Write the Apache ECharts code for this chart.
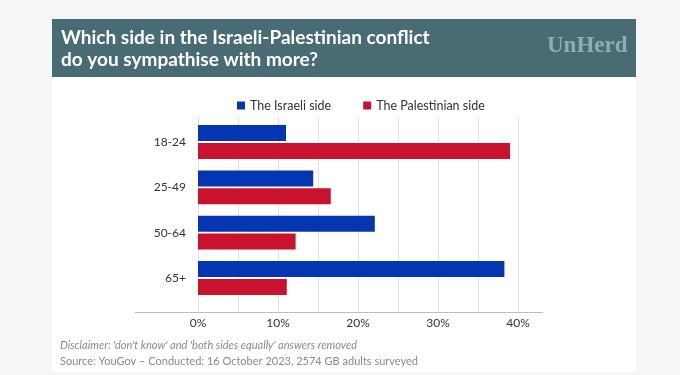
<!DOCTYPE html>
<html>
<head>
<meta charset="utf-8">
<script src="https://cdn.jsdelivr.net/npm/echarts@6/dist/echarts.min.js"></script>
<style>
  html, body { margin: 0; padding: 0; background: #f6f6f6; }
  #main { width: 680px; height: 375px; }
</style>
</head>
<body>
<div id="main"></div>
<script>
// age groups, top to bottom
var ageGroups = ['18-24', '25-49', '50-64', '65+'];
// % sympathising with each side
var israeliSide = [11, 14.4, 22.1, 38.3];
var palestinianSide = [39, 16.6, 12.2, 11.1];
var seriesNames = ['The Israeli side', 'The Palestinian side'];
var xTicks = [0, 10, 20, 30, 40];

var FONT = 'Lato, "Open Sans", sans-serif';

var myChart = echarts.init(document.getElementById('main'));

var option = {
	backgroundColor: '#f6f6f6',
	animation: false,
	graphic: [{
		type: 'rect',
		shape: { x: 52, y: 19, width: 584, height: 353 },
		style: { fill: '#ffffff' },
		z: -10
	}, {
		type: 'rect',
		shape: { x: 52, y: 19, width: 584, height: 58 },
		style: { fill: '#486b74' },
		z: -9
	}, {
		// long baseline under the plot
		type: 'line',
		shape: { x1: 135, y1: 312.5, x2: 543, y2: 312.5 },
		style: { stroke: '#bdbdbd', lineWidth: 1 },
		z: 5
	}, {
		type: 'text',
		left: 547,
		top: 35,
		style: {
			text: 'UnHerd',
			fill: '#8eacb1',
			font: 'bold 23px "Liberation Serif", "DejaVu Serif", serif'
		}
	}, {
		type: 'text',
		left: 60,
		top: 340,
		style: {
			text: "Disclaimer: 'don't know' and 'both sides equally' answers removed",
			fill: '#8a8a8a',
			font: 'italic 11px ' + FONT
		}
	}, {
		type: 'text',
		left: 60,
		top: 356,
		style: {
			text: 'Source: YouGov \u2013 Conducted: 16 October 2023, 2574 GB adults surveyed',
			fill: '#8a8a8a',
			font: '11px ' + FONT
		}
	}],
	title: {
		text: 'Which side in the Israeli-Palestinian conflict\ndo you sympathise with more?',
		left: 56,
		top: 22,
		textStyle: {
			color: '#ffffff',
			fontFamily: FONT,
			fontWeight: 'bold',
			fontSize: 19,
			lineHeight: 22
		}
	},
	legend: {
		data: seriesNames,
		left: 232,
		top: 94,
		icon: 'rect',
		itemWidth: 8,
		itemHeight: 8,
		itemGap: 32,
		textStyle: { color: '#333', fontSize: 12.5, fontFamily: FONT }
	},
	grid: [
		// bars
		{ left: 198, width: 320, top: 119.4, height: 181.2 },
		// gridlines and tick labels
		{ left: 198, width: 320, top: 116, height: 196 }
	],
	xAxis: [{
		gridIndex: 0,
		type: 'value',
		min: 0,
		max: 40,
		show: false
	}, {
		gridIndex: 1,
		type: 'value',
		min: 0,
		max: 40,
		interval: 5,
		axisLine: { show: false },
		axisTick: { show: false },
		splitLine: { show: true, lineStyle: { color: '#e2e2e2', width: 1 } },
		axisLabel: {
			color: '#333',
			fontSize: 12,
			fontFamily: FONT,
			margin: 5,
			formatter: function(v) {
				return xTicks.indexOf(v) >= 0 ? v + '%' : '';
			}
		}
	}],
	yAxis: [{
		gridIndex: 0,
		type: 'category',
		data: ageGroups,
		inverse: true,
		axisLine: { show: false },
		axisTick: { show: false },
		axisLabel: { color: '#333', fontSize: 12, fontFamily: FONT, margin: 12 }
	}, {
		gridIndex: 1,
		type: 'value',
		show: false
	}],
	series: [{
		name: seriesNames[0],
		type: 'bar',
		xAxisIndex: 0,
		yAxisIndex: 0,
		barWidth: 16,
		barGap: '12%',
		itemStyle: { color: '#0436b2' },
		data: israeliSide
	}, {
		name: seriesNames[1],
		type: 'bar',
		xAxisIndex: 0,
		yAxisIndex: 0,
		barWidth: 16,
		barGap: '12%',
		itemStyle: { color: '#c9122d' },
		data: palestinianSide
	}]
};

myChart.setOption(option);
</script>
</body>
</html>
